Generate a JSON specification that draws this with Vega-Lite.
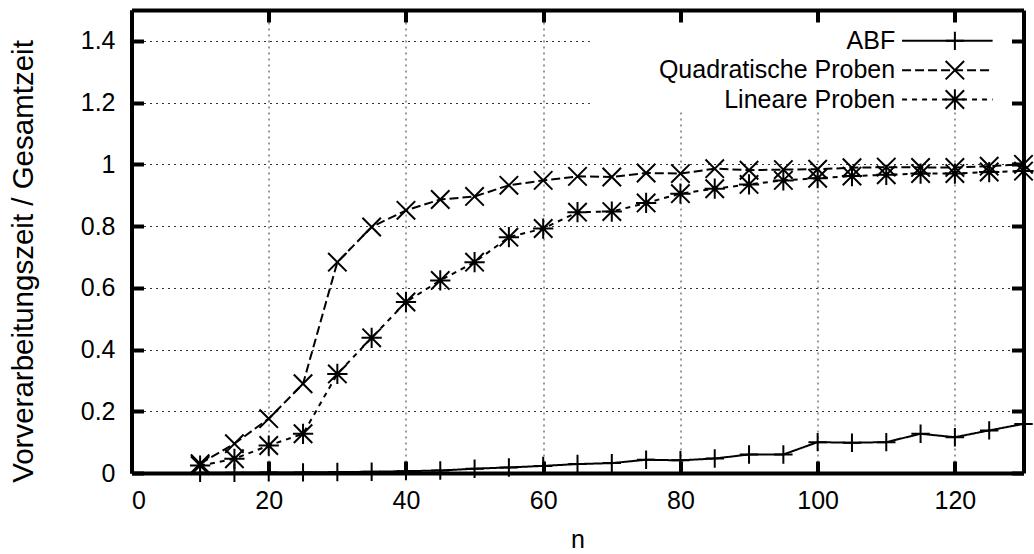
{
  "$schema": "https://vega.github.io/schema/vega-lite/v6.json",
  "width": 892,
  "height": 463,
  "autosize": {"type": "none"},
  "padding": {"left": 131.5, "top": 10, "right": 10.5, "bottom": 81},
  "background": "white",
  "config": {
    "view": {"stroke": null},
    "font": "Liberation Sans",
    "axis": {
      "domainColor": "black",
      "domainWidth": 4,
      "tickColor": "black",
      "tickWidth": 4,
      "tickSize": -12,
      "labelFont": "Liberation Sans",
      "labelFontSize": 25,
      "labelColor": "black",
      "titleFont": "Liberation Sans",
      "titleFontSize": 25,
      "titleFontWeight": "normal",
      "titleColor": "black",
      "gridColor": "#333333",
      "gridDash": [2, 4],
      "gridWidth": 1
    }
  },
  "datasets": {
    "times": [
      {"n": 10, "series": "ABF", "ratio": 0.001},
      {"n": 15, "series": "ABF", "ratio": 0.001},
      {"n": 20, "series": "ABF", "ratio": 0.002},
      {"n": 25, "series": "ABF", "ratio": 0.002},
      {"n": 30, "series": "ABF", "ratio": 0.003},
      {"n": 35, "series": "ABF", "ratio": 0.004},
      {"n": 40, "series": "ABF", "ratio": 0.006},
      {"n": 45, "series": "ABF", "ratio": 0.008},
      {"n": 50, "series": "ABF", "ratio": 0.014},
      {"n": 55, "series": "ABF", "ratio": 0.018},
      {"n": 60, "series": "ABF", "ratio": 0.023},
      {"n": 65, "series": "ABF", "ratio": 0.029},
      {"n": 70, "series": "ABF", "ratio": 0.032},
      {"n": 75, "series": "ABF", "ratio": 0.043},
      {"n": 80, "series": "ABF", "ratio": 0.041},
      {"n": 85, "series": "ABF", "ratio": 0.047},
      {"n": 90, "series": "ABF", "ratio": 0.060},
      {"n": 95, "series": "ABF", "ratio": 0.060},
      {"n": 100, "series": "ABF", "ratio": 0.100},
      {"n": 105, "series": "ABF", "ratio": 0.098},
      {"n": 110, "series": "ABF", "ratio": 0.100},
      {"n": 115, "series": "ABF", "ratio": 0.127},
      {"n": 120, "series": "ABF", "ratio": 0.116},
      {"n": 125, "series": "ABF", "ratio": 0.138},
      {"n": 130, "series": "ABF", "ratio": 0.159},
      {"n": 10, "series": "Quadratische Proben", "ratio": 0.030},
      {"n": 15, "series": "Quadratische Proben", "ratio": 0.095},
      {"n": 20, "series": "Quadratische Proben", "ratio": 0.176},
      {"n": 25, "series": "Quadratische Proben", "ratio": 0.289},
      {"n": 30, "series": "Quadratische Proben", "ratio": 0.683},
      {"n": 35, "series": "Quadratische Proben", "ratio": 0.797},
      {"n": 40, "series": "Quadratische Proben", "ratio": 0.851},
      {"n": 45, "series": "Quadratische Proben", "ratio": 0.886},
      {"n": 50, "series": "Quadratische Proben", "ratio": 0.896},
      {"n": 55, "series": "Quadratische Proben", "ratio": 0.932},
      {"n": 60, "series": "Quadratische Proben", "ratio": 0.948},
      {"n": 65, "series": "Quadratische Proben", "ratio": 0.961},
      {"n": 70, "series": "Quadratische Proben", "ratio": 0.959},
      {"n": 75, "series": "Quadratische Proben", "ratio": 0.972},
      {"n": 80, "series": "Quadratische Proben", "ratio": 0.970},
      {"n": 85, "series": "Quadratische Proben", "ratio": 0.986},
      {"n": 90, "series": "Quadratische Proben", "ratio": 0.981},
      {"n": 95, "series": "Quadratische Proben", "ratio": 0.983},
      {"n": 100, "series": "Quadratische Proben", "ratio": 0.984},
      {"n": 105, "series": "Quadratische Proben", "ratio": 0.989},
      {"n": 110, "series": "Quadratische Proben", "ratio": 0.991},
      {"n": 115, "series": "Quadratische Proben", "ratio": 0.990},
      {"n": 120, "series": "Quadratische Proben", "ratio": 0.990},
      {"n": 125, "series": "Quadratische Proben", "ratio": 0.994},
      {"n": 130, "series": "Quadratische Proben", "ratio": 1.000},
      {"n": 10, "series": "Lineare Proben", "ratio": 0.024},
      {"n": 15, "series": "Lineare Proben", "ratio": 0.046},
      {"n": 20, "series": "Lineare Proben", "ratio": 0.089},
      {"n": 25, "series": "Lineare Proben", "ratio": 0.127},
      {"n": 30, "series": "Lineare Proben", "ratio": 0.321},
      {"n": 35, "series": "Lineare Proben", "ratio": 0.438},
      {"n": 40, "series": "Lineare Proben", "ratio": 0.554},
      {"n": 45, "series": "Lineare Proben", "ratio": 0.624},
      {"n": 50, "series": "Lineare Proben", "ratio": 0.683},
      {"n": 55, "series": "Lineare Proben", "ratio": 0.764},
      {"n": 60, "series": "Lineare Proben", "ratio": 0.792},
      {"n": 65, "series": "Lineare Proben", "ratio": 0.845},
      {"n": 70, "series": "Lineare Proben", "ratio": 0.847},
      {"n": 75, "series": "Lineare Proben", "ratio": 0.875},
      {"n": 80, "series": "Lineare Proben", "ratio": 0.905},
      {"n": 85, "series": "Lineare Proben", "ratio": 0.921},
      {"n": 90, "series": "Lineare Proben", "ratio": 0.935},
      {"n": 95, "series": "Lineare Proben", "ratio": 0.948},
      {"n": 100, "series": "Lineare Proben", "ratio": 0.955},
      {"n": 105, "series": "Lineare Proben", "ratio": 0.962},
      {"n": 110, "series": "Lineare Proben", "ratio": 0.966},
      {"n": 115, "series": "Lineare Proben", "ratio": 0.970},
      {"n": 120, "series": "Lineare Proben", "ratio": 0.970},
      {"n": 125, "series": "Lineare Proben", "ratio": 0.975},
      {"n": 130, "series": "Lineare Proben", "ratio": 0.978}
    ],
    "keys": [
      {"series": "ABF"},
      {"series": "Quadratische Proben"},
      {"series": "Lineare Proben"}
    ]
  },
  "layer": [
    {
      "data": {"name": "times"},
      "mark": {"type": "line", "strokeWidth": 2, "color": "black"},
      "encoding": {
        "x": {
          "field": "n", "type": "quantitative",
          "scale": {"domain": [0, 130], "nice": false, "zero": false},
          "axis": {
            "orient": "bottom", "title": "n", "grid": true, "ticks": true,
            "values": [0, 20, 40, 60, 80, 100, 120],
            "labelPadding": 27, "titlePadding": 14
          }
        },
        "y": {
          "field": "ratio", "type": "quantitative",
          "scale": {"domain": [0, 1.5], "nice": false},
          "axis": {
            "orient": "left", "title": "Vorverarbeitungszeit / Gesamtzeit", "grid": true, "ticks": true,
            "values": [0, 0.2, 0.4, 0.6, 0.8, 1, 1.2, 1.4], "format": "~g",
            "labelPadding": 28.5, "titleFontSize": 29.5,
            "titleX": -108.5, "titleY": 251, "titleBaseline": "middle", "titleAlign": "center", "titleAngle": -90
          }
        },
        "detail": {"field": "series"},
        "strokeDash": {
          "field": "series", "type": "nominal", "legend": null,
          "scale": {
            "domain": ["ABF", "Quadratische Proben", "Lineare Proben"],
            "range": [[1, 0], [9, 4], [5, 5]]
          }
        }
      }
    },
    {
      "data": {"name": "times"},
      "mark": {"type": "point", "filled": false, "stroke": "black", "strokeWidth": 2, "size": 340, "opacity": 1},
      "encoding": {
        "x": {"field": "n", "type": "quantitative", "axis": null},
        "y": {"field": "ratio", "type": "quantitative", "axis": null},
        "shape": {
          "field": "series", "type": "nominal", "legend": null,
          "scale": {
            "domain": ["ABF", "Quadratische Proben", "Lineare Proben"],
            "range": ["M-1,0L1,0M0,-1L0,1", "M-1,-1L1,1M-1,1L1,-1", "M-1,-1L1,1M-1,1L1,-1M0,-1.1L0,1.1M-1.1,0L1.1,0"]
          }
        }
      }
    },
    {
      "data": {"values": [{"box": "key"}]},
      "mark": {"type": "rect", "fill": "white"},
      "encoding": {
        "x": {"datum": 66.8, "type": "quantitative", "axis": null},
        "x2": {"datum": 129.6},
        "y": {"datum": 1.175, "type": "quantitative", "axis": null},
        "y2": {"datum": 1.492}
      }
    },
    {
      "data": {"name": "keys"},
      "transform": [{"filter": "datum.series === 'ABF'"}],
      "layer": [
        {
          "mark": {"type": "text", "align": "right", "baseline": "middle", "fontSize": 25, "font": "Liberation Sans", "color": "black"},
          "encoding": {
            "x": {"datum": 111.3, "type": "quantitative", "axis": null},
            "y": {"datum": 1.4, "type": "quantitative", "axis": null},
            "text": {"field": "series"}
          }
        },
        {
          "mark": {"type": "rule", "strokeWidth": 2, "color": "black"},
          "encoding": {
            "x": {"datum": 112.3, "type": "quantitative", "axis": null},
            "x2": {"datum": 125.5},
            "y": {"datum": 1.4, "type": "quantitative", "axis": null},
            "strokeDash": {"field": "series", "type": "nominal", "legend": null}
          }
        },
        {
          "mark": {"type": "point", "filled": false, "stroke": "black", "strokeWidth": 2, "size": 340, "opacity": 1},
          "encoding": {
            "x": {"datum": 120, "type": "quantitative", "axis": null},
            "y": {"datum": 1.4, "type": "quantitative", "axis": null},
            "shape": {"field": "series", "type": "nominal", "legend": null}
          }
        }
      ]
    },
    {
      "data": {"name": "keys"},
      "transform": [{"filter": "datum.series === 'Quadratische Proben'"}],
      "layer": [
        {
          "mark": {"type": "text", "align": "right", "baseline": "middle", "fontSize": 25, "font": "Liberation Sans", "color": "black"},
          "encoding": {
            "x": {"datum": 111.3, "type": "quantitative", "axis": null},
            "y": {"datum": 1.305, "type": "quantitative", "axis": null},
            "text": {"field": "series"}
          }
        },
        {
          "mark": {"type": "rule", "strokeWidth": 2, "color": "black"},
          "encoding": {
            "x": {"datum": 112.3, "type": "quantitative", "axis": null},
            "x2": {"datum": 125.5},
            "y": {"datum": 1.305, "type": "quantitative", "axis": null},
            "strokeDash": {"field": "series", "type": "nominal", "legend": null}
          }
        },
        {
          "mark": {"type": "point", "filled": false, "stroke": "black", "strokeWidth": 2, "size": 340, "opacity": 1},
          "encoding": {
            "x": {"datum": 120, "type": "quantitative", "axis": null},
            "y": {"datum": 1.305, "type": "quantitative", "axis": null},
            "shape": {"field": "series", "type": "nominal", "legend": null}
          }
        }
      ]
    },
    {
      "data": {"name": "keys"},
      "transform": [{"filter": "datum.series === 'Lineare Proben'"}],
      "layer": [
        {
          "mark": {"type": "text", "align": "right", "baseline": "middle", "fontSize": 25, "font": "Liberation Sans", "color": "black"},
          "encoding": {
            "x": {"datum": 111.3, "type": "quantitative", "axis": null},
            "y": {"datum": 1.21, "type": "quantitative", "axis": null},
            "text": {"field": "series"}
          }
        },
        {
          "mark": {"type": "rule", "strokeWidth": 2, "color": "black"},
          "encoding": {
            "x": {"datum": 112.3, "type": "quantitative", "axis": null},
            "x2": {"datum": 125.5},
            "y": {"datum": 1.21, "type": "quantitative", "axis": null},
            "strokeDash": {"field": "series", "type": "nominal", "legend": null}
          }
        },
        {
          "mark": {"type": "point", "filled": false, "stroke": "black", "strokeWidth": 2, "size": 340, "opacity": 1},
          "encoding": {
            "x": {"datum": 120, "type": "quantitative", "axis": null},
            "y": {"datum": 1.21, "type": "quantitative", "axis": null},
            "shape": {"field": "series", "type": "nominal", "legend": null}
          }
        }
      ]
    },
    {
      "data": {"name": "times"},
      "mark": {"type": "point", "opacity": 0},
      "encoding": {
        "x": {
          "field": "n", "type": "quantitative",
          "axis": {
            "orient": "top", "title": null, "labels": false, "grid": false, "ticks": true, "zindex": 1,
            "values": [0, 20, 40, 60, 80, 100, 120]
          }
        },
        "y": {
          "field": "ratio", "type": "quantitative",
          "axis": {
            "orient": "right", "title": null, "labels": false, "grid": false, "ticks": true, "zindex": 1,
            "values": [0, 0.2, 0.4, 0.6, 0.8, 1, 1.2, 1.4]
          }
        }
      }
    }
  ],
  "resolve": {"axis": {"x": "independent", "y": "independent"}}
}
